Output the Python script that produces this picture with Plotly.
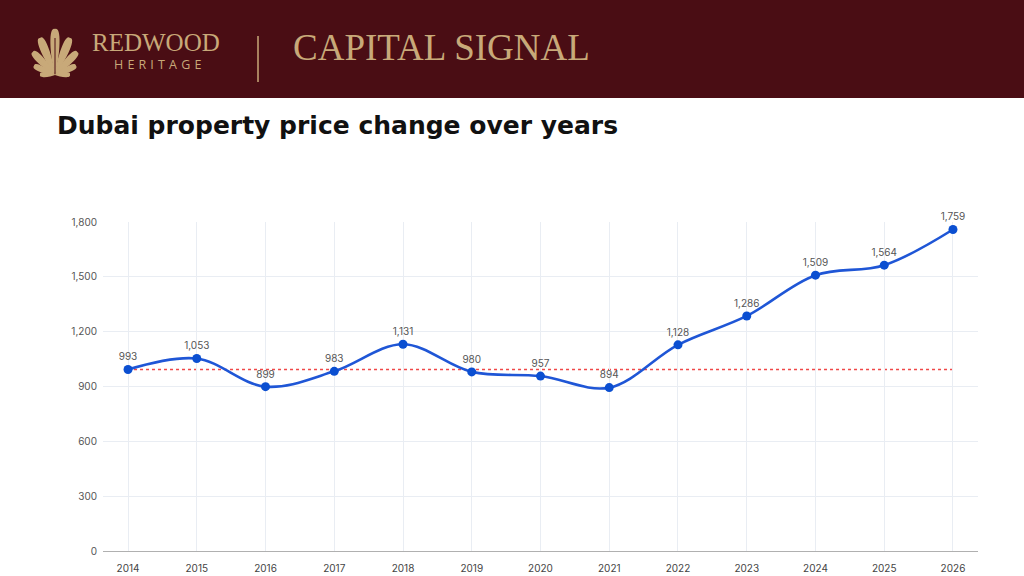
import math
import plotly.graph_objects as go

years = ["2014", "2015", "2016", "2017", "2018", "2019", "2020", "2021", "2022", "2023", "2024", "2025", "2026"]
prices = [993, 1053, 899, 983, 1131, 980, 957, 894, 1128, 1286, 1509, 1564, 1759]
reference_level = 993
y_ticks = [0, 300, 600, 900, 1200, 1500, 1800]

W, H = 1024, 576
L, R, T, B = 103, 46, 222, 25
PW, PH = W - L - R, H - T - B

def px(x):
    return (x - L) / PW

def py(y):
    return (H - B - y) / PH

HEADER = "#4a0d14"
GOLD = "#c8a979"

x_idx = list(range(len(years)))
labels = [f"{v:,}" for v in prices]

fig = go.Figure()
fig.add_trace(go.Scatter(
    x=x_idx, y=prices, mode="lines+markers+text",
    line=dict(color="#1f56d6", width=2.6, shape="spline", smoothing=1.0),
    marker=dict(color="#0b4fd1", size=9),
    text=labels, textposition="top center",
    textfont=dict(family="Inter", size=10, color="#555555"),
    cliponaxis=False, hoverinfo="skip", showlegend=False,
))

shapes = []
shapes.append(dict(type="line", xref="x", yref="y", x0=x_idx[0], x1=x_idx[-1],
                   y0=reference_level, y1=reference_level,
                   line=dict(color="#f04848", width=1.3, dash="dot"), layer="below"))
shapes.append(dict(type="rect", xref="paper", yref="paper", x0=px(-2), x1=px(W + 2),
                   y0=py(98), y1=py(-3), fillcolor=HEADER, line=dict(width=0)))
shapes.append(dict(type="line", xref="paper", yref="paper", x0=px(258), x1=px(258),
                   y0=py(36), y1=py(82), line=dict(color=GOLD, width=1.5)))

# leaf logo: rounded lobes radiating from the base
bx, by = 55.0, 75.0
petals = [(0, 46, 6.0), (-22, 40, 5.5), (22, 40, 5.5), (-44, 32, 5.0), (44, 32, 5.0),
          (-66, 23, 4.2), (66, 23, 4.2), (-88, 15, 3.4), (88, 15, 3.4)]
for ang, ln, w in petals:
    a = math.radians(ang)
    dx, dy = math.sin(a), -math.cos(a)
    nx, ny = -dy, dx
    def P(t, s, dx=dx, dy=dy, nx=nx, ny=ny, ln=ln):
        X = bx + dx * ln * t + nx * s
        Y = by + dy * ln * t + ny * s
        return f"{px(X):.5f},{py(Y):.5f}"
    path = (f"M {P(0, 0)} C {P(0.3, w * 0.7)} {P(1.08, w * 1.3)} {P(1, 0)} "
            f"C {P(1.08, -w * 1.3)} {P(0.3, -w * 0.7)} {P(0, 0)} Z")
    shapes.append(dict(type="path", xref="paper", yref="paper", path=path,
                       fillcolor=GOLD, line=dict(width=0)))
shapes.append(dict(type="line", xref="paper", yref="paper", x0=px(55), x1=px(55),
                   y0=py(38), y1=py(74), line=dict(color=HEADER, width=1)))

annotations = [
    dict(text="REDWOOD", x=px(156), y=py(43), xref="paper", yref="paper",
         showarrow=False, xanchor="center", yanchor="middle",
         font=dict(family="Liberation Serif", size=25, color=GOLD)),
    dict(text="H\u2004E\u2004R\u2004I\u2004T\u2004A\u2004G\u2004E", x=px(157), y=py(64),
         xref="paper", yref="paper", showarrow=False, xanchor="center", yanchor="middle",
         font=dict(family="Open Sans", size=12.5, color=GOLD)),
    dict(text="CAPITAL SIGNAL", x=px(291), y=py(47), xref="paper", yref="paper",
         showarrow=False, xanchor="left", yanchor="middle",
         font=dict(family="Liberation Serif", size=37, color=GOLD)),
    dict(text="Dubai property price change over years", x=px(55), y=py(125),
         xref="paper", yref="paper", showarrow=False, xanchor="left", yanchor="middle",
         font=dict(family="DejaVu Sans", size=25, color="#111111", weight="bold")),
]

fig.update_layout(
    width=W, height=H, margin=dict(l=L, r=R, t=T, b=B, pad=0, autoexpand=False),
    paper_bgcolor="white", plot_bgcolor="white",
    shapes=shapes, annotations=annotations,
    xaxis=dict(range=[-0.364, len(years) - 1 + 0.364], tickmode="array",
               tickvals=x_idx, ticktext=years, showgrid=True, gridcolor="#e9edf3",
               gridwidth=1, zeroline=False, showline=True, linecolor="#b0b0b0",
               linewidth=1, ticks="", fixedrange=True, ticklabelstandoff=8,
               automargin=False,
               tickfont=dict(family="Inter", size=10, color="#444444")),
    yaxis=dict(range=[0, 1800], tickvals=y_ticks, tickformat=",d",
               showgrid=True, gridcolor="#e9edf3", gridwidth=1, zeroline=False,
               showline=False, ticks="", fixedrange=True, ticklabelstandoff=5,
               automargin=False,
               tickfont=dict(family="Inter", size=10, color="#555555")),
)

fig.write_html("out.html")
